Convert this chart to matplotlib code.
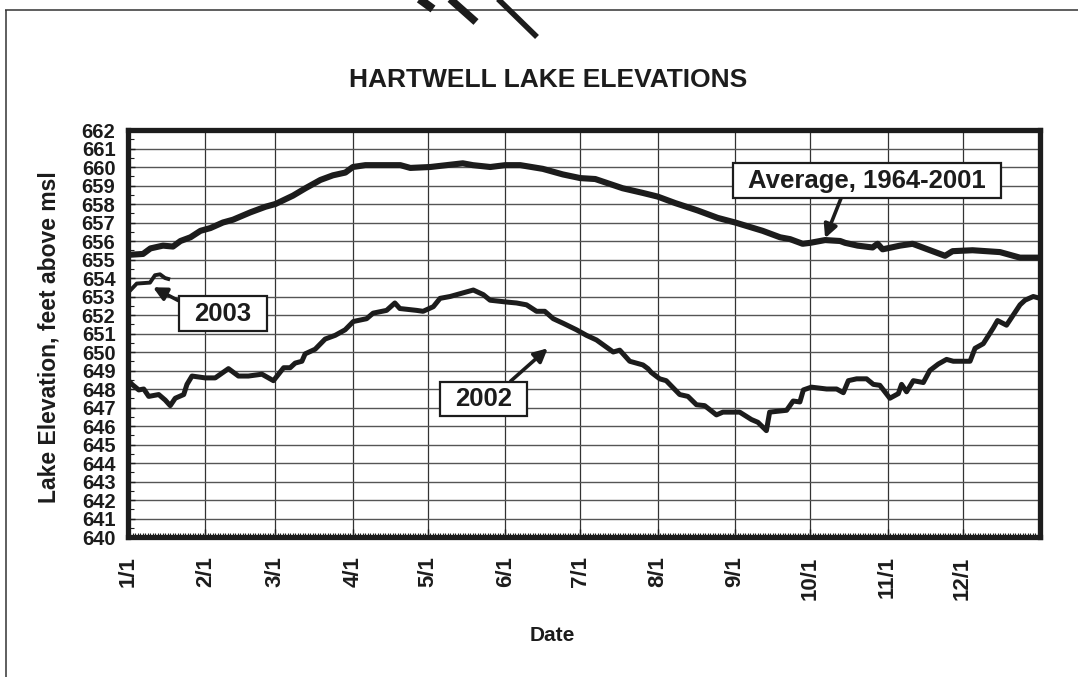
import matplotlib
matplotlib.use("Agg")
import matplotlib.pyplot as plt
from matplotlib.lines import Line2D
from matplotlib.ticker import MultipleLocator, FixedLocator

# day of year (0 = Jan 1) and lake elevation, ft msl
avg_day = [0, 6, 9, 14, 18, 21, 25, 29, 33, 38, 42, 49, 55, 59, 66, 71, 77, 82, 87, 90,
           95, 109, 113, 121, 134, 138, 145, 151, 157, 166, 174, 181, 187, 198, 206, 212,
           219, 228, 236, 243, 254, 261, 265, 270, 273, 279, 285, 287, 292, 298, 300, 302,
           309, 314, 322, 327, 330, 338, 349, 357, 365]
avg_elev = [655.25, 655.3, 655.6, 655.75, 655.7, 656.0, 656.2, 656.55, 656.7, 657.0, 657.15,
            657.55, 657.85, 658.0, 658.45, 658.85, 659.3, 659.55, 659.7, 660.0,
            660.1, 660.1, 659.95, 660.0, 660.2, 660.1, 660.0, 660.1, 660.1, 659.9, 659.6,
            659.4, 659.35, 658.85, 658.6, 658.4, 658.05, 657.65, 657.25, 657.0, 656.55,
            656.2, 656.1, 655.85, 655.9, 656.05, 656.0, 655.9, 655.75, 655.65, 655.85, 655.55,
            655.75, 655.85, 655.45, 655.2, 655.45, 655.5, 655.4, 655.1, 655.1]

y2002_day = [0, 1.6, 4.3, 6.3, 8.3, 12.3, 14.9, 16.9, 18.9, 22.3, 23.6, 25.6, 30.9, 34.9,
             40.2, 44.2, 48.2, 53.6, 58.2, 62.3, 64.9, 66.9, 69.6, 70.9, 74.9, 78.9, 82.9,
             86.9, 90.2, 95.5, 98.1, 103.5, 106.8, 108.8, 115.5, 118.1, 122.2, 124.9,
             128.9, 134.2, 138.2, 142.2, 144.9, 151.5, 155.5, 159.5, 163.5, 166.8, 170.2,
             174.2, 179.5, 183.5, 187.5, 194.2, 196.8, 200.8, 206.1, 208.1, 209.4, 212.8,
             215.4, 220.8, 224.1, 227.5, 230.8, 235.5, 238.1, 244.8, 249.5, 252.1, 255.5,
             256.8, 263.6, 266.2, 268.9, 270.3, 273.5, 279.6, 283.6, 286.3, 288.3, 291.6,
             295.6, 298.3, 300.9, 304.9, 308.3, 309.6, 311.6, 314.3, 318.3, 320.9, 324.3,
             327.6, 330.3, 337.0, 339.0, 342.3, 346.3, 348.0, 351.6, 354.3, 357.0, 359.0,
             362.3, 365]
y2002_elev = [648.5, 648.25, 647.95, 648.0, 647.6, 647.7, 647.4, 647.1, 647.5, 647.7, 648.25,
              648.7, 648.6, 648.6, 649.1, 648.7, 648.7, 648.8, 648.45, 649.15, 649.15, 649.4,
              649.5, 649.9, 650.15, 650.7, 650.9, 651.2, 651.65, 651.8, 652.1, 652.25, 652.65,
              652.35, 652.25, 652.2, 652.45, 652.9, 653.0, 653.2, 653.35, 653.1, 652.8, 652.7,
              652.65, 652.55, 652.2, 652.2, 651.8, 651.55, 651.2, 650.9, 650.65, 650.0,
              650.1, 649.5, 649.3, 649.1, 648.9, 648.55, 648.45, 647.7, 647.6, 647.15, 647.1,
              646.6, 646.75, 646.75, 646.35, 646.2, 645.75, 646.75, 646.85, 647.35, 647.3,
              647.95, 648.1, 648.0, 648.0, 647.8, 648.45, 648.55, 648.55, 648.25, 648.2,
              647.5, 647.75, 648.25, 647.85, 648.45, 648.35, 649.0, 649.35, 649.6, 649.5,
              649.5, 650.2, 650.45, 651.3, 651.7, 651.45, 652.0, 652.55, 652.8, 653.0, 652.9]

y2003_day = [0, 3.5, 8.8, 10.8, 12.8, 14.8, 16.1]
y2003_elev = [653.2, 653.7, 653.75, 654.15, 654.2, 654.0, 653.95]

month_day = [0, 31, 59, 90, 120, 151, 181, 212, 243, 273, 304, 334]
month_lbl = ["1/1", "2/1", "3/1", "4/1", "5/1", "6/1", "7/1", "8/1", "9/1", "10/1", "11/1", "12/1"]

ink = "#1c1c1c"
plt.rcParams["font.family"] = ["Liberation Sans", "DejaVu Sans"]

fig = plt.figure(figsize=(10.78, 6.77), dpi=100)
ax = fig.add_axes([128 / 1078, 1 - 537 / 677, 912 / 1078, 407 / 677])

ax.plot(avg_day, avg_elev, color=ink, lw=4.4, solid_joinstyle="round", zorder=3)
ax.plot(y2002_day, y2002_elev, color=ink, lw=3.6, solid_joinstyle="round", zorder=3)
ax.plot(y2003_day, y2003_elev, color=ink, lw=2.8, solid_joinstyle="round", zorder=3)

ax.set_xlim(0, 365)
ax.set_ylim(640, 662)
ax.yaxis.set_minor_locator(MultipleLocator(0.5))
ax.xaxis.set_major_locator(FixedLocator(month_day))
ax.xaxis.set_minor_locator(MultipleLocator(1))
ax.set_xticklabels(month_lbl, rotation=90, fontsize=16, fontweight="bold")
ax.set_yticks(range(640, 663))
ax.set_yticklabels([str(v) for v in range(640, 663)], fontsize=14.5, fontweight="bold")

ax.grid(True, axis="y", which="major", color="#555555", lw=1.0)
ax.grid(True, axis="x", which="major", color="#333333", lw=0.9)
ax.tick_params(axis="x", which="major", direction="in", length=6, width=1, pad=14, colors=ink)
ax.tick_params(axis="x", which="minor", direction="in", length=3, width=0.8, color=ink)
ax.tick_params(axis="y", which="major", direction="in", length=5, width=1, pad=9, colors=ink)
ax.tick_params(axis="y", which="minor", direction="in", length=4, width=0.8, color=ink)
for s in ax.spines.values():
    s.set_linewidth(3.8)
    s.set_color(ink)
    s.set_capstyle("projecting")

ax.set_ylabel("Lake Elevation, feet above msl", fontsize=16.5, fontweight="bold", color=ink)
ax.yaxis.set_label_coords(-0.074, 0.49)
ax.set_xlabel("Date", fontsize=15, fontweight="bold", color=ink)
ax.xaxis.set_label_coords(0.465, -0.218)

fig.text(548 / 1078, 1 - 80 / 677, "HARTWELL LAKE ELEVATIONS", ha="center", va="center",
         fontsize=19, fontweight="bold", color=ink)

box = dict(boxstyle="square,pad=0.6", fc="white", ec=ink, lw=1.6, mutation_aspect=0.33)
arrow = dict(arrowstyle="-|>", color=ink, lw=2.6, mutation_scale=20, shrinkA=0, shrinkB=0)

ax.annotate("Average, 1964-2001", xy=(279, 656.15), xytext=(295.8, 659.27),
            ha="center", va="center", fontsize=18.5, fontweight="bold", color=ink,
            bbox=box, arrowprops=dict(arrow, relpos=(0.4, 0.0)), zorder=5)
ax.annotate("2003", xy=(10, 653.5), xytext=(38.0, 652.08),
            ha="center", va="center", fontsize=18.5, fontweight="bold", color=ink,
            bbox=box, arrowprops=dict(arrow, relpos=(0.03, 0.65)), zorder=5)
ax.annotate("2002", xy=(168, 650.2), xytext=(142.3, 647.46),
            ha="center", va="center", fontsize=18.5, fontweight="bold", color=ink,
            bbox=box, arrowprops=dict(arrow, relpos=(0.86, 1.0)), zorder=5)

# scan frame lines and the cut-off strokes at the top of the page
W, H = 1078, 677
def fig_line(x0, y0, x1, y1, lw, color):
    fig.add_artist(Line2D([x0 / W, x1 / W], [1 - y0 / H, 1 - y1 / H], lw=lw,
                          color=color, solid_capstyle="butt"))

fig_line(5, 10, W, 10, 1.1, "#333333")
fig_line(6, 10, 6, H, 1.1, "#333333")
fig_line(418, -2, 433, 9, 6, ink)
fig_line(449, -2, 476, 22, 5.5, ink)
fig_line(497, -2, 537, 37, 4, ink)

fig.savefig("out.png", dpi=100)
